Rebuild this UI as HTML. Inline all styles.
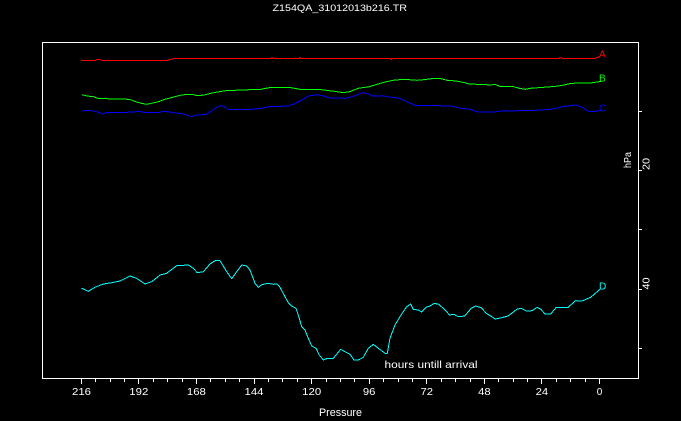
<!DOCTYPE html>
<html>
<head>
<meta charset="utf-8">
<style>
html,body{margin:0;padding:0;background:#000;}
svg{display:block;}
text{font-family:"Liberation Sans",sans-serif;fill:#fff;}
</style>
</head>
<body>
<svg width="681" height="421" viewBox="0 0 681 421" xmlns="http://www.w3.org/2000/svg">
<rect x="0" y="0" width="681" height="421" fill="#000"/>

<!-- title -->
<text x="272.5" y="11" font-size="9" textLength="134.5" lengthAdjust="spacingAndGlyphs">Z154QA_31012013b216.TR</text>

<!-- frame -->
<rect x="42.5" y="42.5" width="596" height="336" fill="none" stroke="#fff" stroke-width="1" shape-rendering="crispEdges"/>

<!-- right ticks -->
<g stroke="#fff" stroke-width="1" shape-rendering="crispEdges">
<line x1="638" y1="111.5" x2="642" y2="111.5"/>
<line x1="638" y1="170.5" x2="642" y2="170.5"/>
<line x1="638" y1="229.5" x2="642" y2="229.5"/>
<line x1="638" y1="289.5" x2="642" y2="289.5"/>
<line x1="638" y1="348.5" x2="642" y2="348.5"/>
</g>

<!-- bottom ticks -->
<g stroke="#fff" stroke-width="1" shape-rendering="crispEdges">
<line x1="81.5" y1="379" x2="81.5" y2="384"/>
<line x1="95.5" y1="379" x2="95.5" y2="382"/>
<line x1="110.5" y1="379" x2="110.5" y2="382"/>
<line x1="124.5" y1="379" x2="124.5" y2="382"/>
<line x1="138.5" y1="379" x2="138.5" y2="384"/>
<line x1="153.5" y1="379" x2="153.5" y2="382"/>
<line x1="167.5" y1="379" x2="167.5" y2="382"/>
<line x1="182.5" y1="379" x2="182.5" y2="382"/>
<line x1="196.5" y1="379" x2="196.5" y2="384"/>
<line x1="210.5" y1="379" x2="210.5" y2="382"/>
<line x1="225.5" y1="379" x2="225.5" y2="382"/>
<line x1="239.5" y1="379" x2="239.5" y2="382"/>
<line x1="254.5" y1="379" x2="254.5" y2="384"/>
<line x1="268.5" y1="379" x2="268.5" y2="382"/>
<line x1="282.5" y1="379" x2="282.5" y2="382"/>
<line x1="297.5" y1="379" x2="297.5" y2="382"/>
<line x1="311.5" y1="379" x2="311.5" y2="384"/>
<line x1="326.5" y1="379" x2="326.5" y2="382"/>
<line x1="340.5" y1="379" x2="340.5" y2="382"/>
<line x1="354.5" y1="379" x2="354.5" y2="382"/>
<line x1="369.5" y1="379" x2="369.5" y2="384"/>
<line x1="383.5" y1="379" x2="383.5" y2="382"/>
<line x1="398.5" y1="379" x2="398.5" y2="382"/>
<line x1="412.5" y1="379" x2="412.5" y2="382"/>
<line x1="426.5" y1="379" x2="426.5" y2="384"/>
<line x1="441.5" y1="379" x2="441.5" y2="382"/>
<line x1="455.5" y1="379" x2="455.5" y2="382"/>
<line x1="470.5" y1="379" x2="470.5" y2="382"/>
<line x1="484.5" y1="379" x2="484.5" y2="384"/>
<line x1="498.5" y1="379" x2="498.5" y2="382"/>
<line x1="513.5" y1="379" x2="513.5" y2="382"/>
<line x1="527.5" y1="379" x2="527.5" y2="382"/>
<line x1="541.5" y1="379" x2="541.5" y2="384"/>
<line x1="556.5" y1="379" x2="556.5" y2="382"/>
<line x1="570.5" y1="379" x2="570.5" y2="382"/>
<line x1="585.5" y1="379" x2="585.5" y2="382"/>
<line x1="599.5" y1="379" x2="599.5" y2="384"/>
</g>

<!-- bottom tick labels -->
<g font-size="10" text-anchor="middle">
<text x="81.5" y="395" textLength="19" lengthAdjust="spacingAndGlyphs">216</text>
<text x="138.8" y="395" textLength="19" lengthAdjust="spacingAndGlyphs">192</text>
<text x="196.4" y="395" textLength="19" lengthAdjust="spacingAndGlyphs">168</text>
<text x="254" y="395" textLength="19" lengthAdjust="spacingAndGlyphs">144</text>
<text x="311.7" y="395" textLength="19" lengthAdjust="spacingAndGlyphs">120</text>
<text x="369.2" y="395" textLength="12.5" lengthAdjust="spacingAndGlyphs">96</text>
<text x="426.8" y="395" textLength="12.5" lengthAdjust="spacingAndGlyphs">72</text>
<text x="484.4" y="395" textLength="12.5" lengthAdjust="spacingAndGlyphs">48</text>
<text x="541.9" y="395" textLength="12.5" lengthAdjust="spacingAndGlyphs">24</text>
<text x="599.5" y="395">0</text>
</g>

<!-- axis titles -->
<text x="319" y="416" font-size="11" textLength="43" lengthAdjust="spacingAndGlyphs">Pressure</text>
<text x="384.5" y="368" font-size="10.5" textLength="93" lengthAdjust="spacingAndGlyphs">hours untill arrival</text>

<!-- right labels rotated -->
<text transform="translate(631,168) rotate(-90)" font-size="10" textLength="16" lengthAdjust="spacingAndGlyphs">hPa</text>
<text transform="translate(649.5,170) rotate(-90)" font-size="10.5" textLength="12" lengthAdjust="spacingAndGlyphs">20</text>
<text transform="translate(649.5,289.5) rotate(-90)" font-size="10.5" textLength="12" lengthAdjust="spacingAndGlyphs">40</text>

<!-- series -->
<g fill="none" stroke-width="1" stroke-linejoin="round" shape-rendering="crispEdges">
<polyline stroke="#ff0000" points="81,60.5 95,60.5 97,59.5 100,59.5 102,60.5 167,60.5 170,59.5 174,58.5 271,58.5 272,57.5 273,58.5 299,58.5 300,57.5 301,58.5 390,58.5 391,59.5 392,58.5 559,58.5 560,57.5 562,58.5 594,58.5 597,57.5 600,56.5"/>

<polyline stroke="#00ff00" points="81.7,94.7 86.9,96 93.4,96.7 97.7,98.3 112.9,99 129.4,99.3 134.6,101.3 141.2,103.3 146.8,104.3 154.2,102.7 158.5,101.7 165,99.3 173.7,97 180.2,95.3 186.8,94.3 193.3,94.7 197.6,95.7 204.1,95 210.6,93.3 217.2,92 225.8,90.7 234.5,90.3 260.6,89.3 269.3,87.7 291,87.7 299.7,89.3 319.2,89.3 325.7,90.3 334.4,91.3 343.1,92.7 349.6,91.7 358.3,88.3 369.2,86.7 377.9,84 386.5,81.7 393.1,80.3 403.9,79.3 416.9,80.3 423.5,79.7 434.3,78.3 440.8,78.7 447.3,80.3 456,81 464.7,82.7 469.1,84 486.4,84.7 490.8,85 495.1,84.3 499.5,86.3 512.5,86.3 519,88.3 525.5,89.3 532,88 538.5,87.7 547.2,87 555.9,86.3 562.4,85.3 571.1,83.3 590.7,83 597.2,82 601.5,81.3"/>

<polyline stroke="#0000ff" points="81.7,111.3 84.7,110.3 91.2,110.7 97.7,112 102.1,114 106.4,112.7 115.1,112.7 134.6,112 139,111.3 145.5,112.7 158.5,112.7 162.9,111.3 171.6,112.3 178.1,113.3 184.6,114.3 191.1,116.7 195.4,115.3 199.8,115 206.3,114.3 212.8,110 219.3,105.7 223.7,106.3 228,109.3 251.9,109.3 260.6,108.3 269.3,106.7 288.8,106 295.3,103.3 301.8,100 308.4,96 317,94.7 323.6,96 330.1,98 345.3,98.3 351.8,96.7 362.7,92.7 369.2,94.3 373.5,96.3 382.2,95.7 388.7,97 399.6,98.3 410.4,103.3 414.8,105.3 430,105.3 436.5,105.7 451.7,106 460.4,108.3 469.1,109 477.7,112 495.1,112 499.5,111 521.2,110.7 534.2,110.3 551.6,109.3 564.6,106.3 575.5,105 582,107.3 588.5,111.3 595,111.3 601.5,110.3"/>

<polyline stroke="#00ffff" points="81.7,288.3 88.3,291.3 95,287.3 103.3,284 111.7,282.7 120,281 130,276 136.7,278.3 145,284 151.7,281.7 160,275 166.7,273.3 176.7,265.7 188.3,265 193.3,268.3 197.3,272.7 203.3,271.7 210,264 215,260.7 220,260.7 226.7,271.7 231.7,278.7 236.7,271.7 241.7,265 246.7,266 250,270 255,283.3 258.3,287.3 261.7,284.7 268.3,283.3 273.3,284.3 277.3,284 280,287.3 285,296.7 288.3,302.7 291.7,306 296,308.3 298.3,315 301.7,326.7 305,330 308.3,338.3 311.7,346 316,348.3 319.3,355 323.3,360 327.3,358.3 333.3,358.3 340.7,349.3 345,351.7 350,354.3 354,360 358.3,360 363.3,357.3 368.3,348.3 373.3,344.3 378.3,348.3 385,353.3 387.3,353.3 390,338.3 395,325 400,316.7 406.7,306.7 410.7,304 413.3,309.3 418.3,310 421.7,312 426,307.3 430,306 434.3,303.3 438.7,304.3 445.2,310 449.5,315 453.9,314.3 458.2,316.7 464.7,316 471.2,308.3 475.6,306 481.2,307.7 486.4,313.3 495.1,319 501.6,317.7 508.1,316 516.8,309.3 521.2,308.3 526.4,311 532,310.7 537.2,307.3 540.7,309.3 545.1,314 550.7,314 555.9,307.7 568.1,307.3 575.5,300.7 582,301 590.7,297.3 597.2,291.7 599.5,289.3"/>
</g>

<!-- series labels -->
<g font-size="10" style="text-rendering:optimizeSpeed">
<text x="599" y="57.5" style="fill:#ff0000">A</text>
<text x="599" y="81.5" style="fill:#00ff00">B</text>
<text x="599" y="111.5" style="fill:#0000ff">C</text>
<text x="599" y="289.5" style="fill:#00ffff">D</text>
</g>
</svg>
</body>
</html>
